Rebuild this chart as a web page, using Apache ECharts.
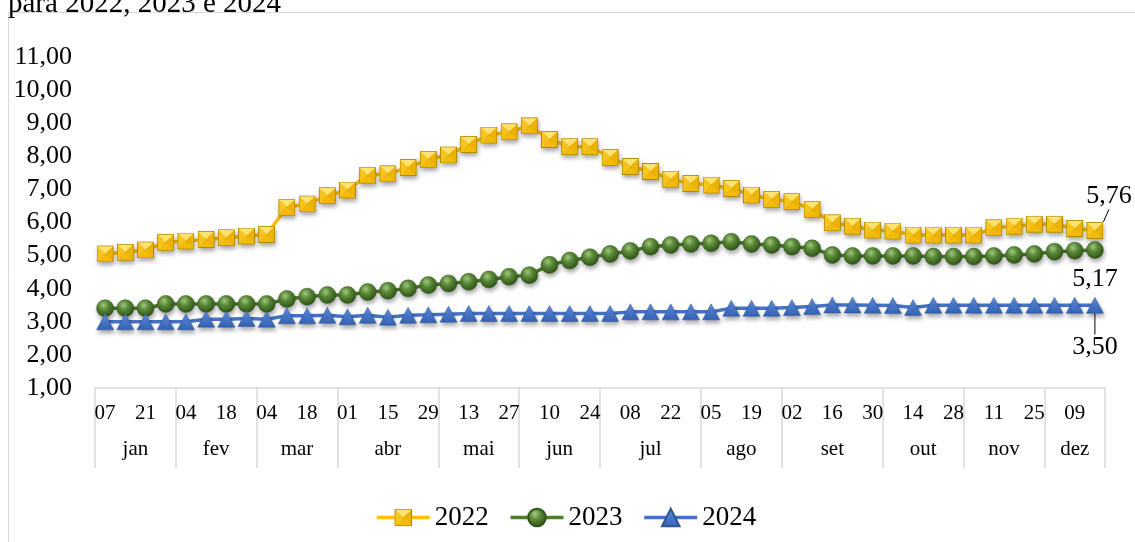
<!DOCTYPE html>
<html>
<head>
<meta charset="utf-8">
<script src="https://cdn.jsdelivr.net/npm/echarts@6/dist/echarts.min.js"></script>
<style>
  html, body { margin: 0; padding: 0; background: #fff; }
  #chart { width: 1135px; height: 542px; }
</style>
</head>
<body>
<div id="chart"></div>
<script>
// Weekly dates (day of month), grouped by month below
const days = ['07','14','21','28', '04','11','18','25', '04','11','18','25',
  '01','08','15','22','29', '06','13','20','27', '03','10','17','24',
  '01','08','15','22','29', '05','12','19','26', '02','09','16','23','30',
  '07','14','21','28', '04','11','18','25', '02','09','16'];
const months = ['jan','fev','mar','abr','mai','jun','jul','ago','set','out','nov','dez'];
const weeksPerMonth = [4, 4, 4, 5, 4, 4, 5, 4, 5, 4, 4, 3];

const v2022 = [5.05, 5.10, 5.17, 5.40, 5.44, 5.49, 5.54, 5.59, 5.64, 6.46,
  6.56, 6.81, 6.98, 7.43, 7.47, 7.66, 7.91, 8.04, 8.36, 8.64,
  8.74, 8.92, 8.51, 8.29, 8.29, 7.97, 7.69, 7.54, 7.31, 7.18,
  7.13, 7.03, 6.83, 6.70, 6.63, 6.40, 5.99, 5.89, 5.77, 5.74,
  5.62, 5.62, 5.62, 5.62, 5.84, 5.89, 5.95, 5.95, 5.82, 5.76];
const v2023 = [3.41, 3.41, 3.41, 3.54, 3.54, 3.54, 3.54, 3.54, 3.54, 3.69,
  3.76, 3.81, 3.81, 3.90, 3.94, 4.01, 4.11, 4.16, 4.21, 4.28,
  4.36, 4.41, 4.72, 4.85, 4.95, 5.05, 5.14, 5.27, 5.32, 5.35,
  5.37, 5.42, 5.35, 5.32, 5.27, 5.22, 5.02, 4.99, 4.99, 4.99,
  4.99, 4.97, 4.97, 4.97, 4.99, 5.02, 5.05, 5.12, 5.15, 5.17];
const v2024 = [3.00, 3.00, 3.00, 3.00, 3.00, 3.08, 3.08, 3.10, 3.08, 3.18,
  3.18, 3.20, 3.15, 3.20, 3.14, 3.20, 3.21, 3.23, 3.25, 3.25,
  3.25, 3.25, 3.25, 3.25, 3.25, 3.25, 3.30, 3.30, 3.30, 3.30,
  3.30, 3.41, 3.41, 3.41, 3.43, 3.46, 3.51, 3.51, 3.50, 3.49,
  3.43, 3.50, 3.50, 3.50, 3.50, 3.50, 3.50, 3.50, 3.50, 3.50];

const FONT = '"Liberation Serif", "Times New Roman", serif';
const fmt = v => Number(v).toFixed(2).replace('.', ',');

// Month group boundaries and centres, in category units
const monthEdges = [0];
weeksPerMonth.forEach(n => monthEdges.push(monthEdges[monthEdges.length - 1] + n));
const monthCenters = weeksPerMonth.map((n, i) => monthEdges[i] + n / 2);

// Pyramid-shaded square marker
const squareSvg = "<svg xmlns='http://www.w3.org/2000/svg' width='64' height='64' viewBox='0 0 16 16'>" +
  "<polygon points='0,0 16,0 8,8' fill='#ffe36e'/>" +
  "<polygon points='0,0 8,8 0,16' fill='#f7c41c'/>" +
  "<polygon points='16,0 8,8 16,16' fill='#eeb200'/>" +
  "<polygon points='0,16 8,8 16,16' fill='#f3ba08'/>" +
  "<rect x='0.4' y='0.4' width='15.2' height='15.2' fill='none' stroke='#a88000' stroke-width='0.8'/>" +
  "</svg>";
const squareSymbol = 'image://data:image/svg+xml;charset=utf-8,' + encodeURIComponent(squareSvg);

const shadow = { shadowBlur: 4, shadowColor: 'rgba(0,0,0,0.35)', shadowOffsetX: 1, shadowOffsetY: 3 };

function withLastLabel(values) {
  return values.map((v, i) => i === values.length - 1 ? { value: v, label: { show: true } } : v);
}

const labelBase = { fontFamily: FONT, fontSize: 26, color: '#000', formatter: p => fmt(p.value) };

const chart = echarts.init(document.getElementById('chart'), null, { renderer: 'canvas' });
chart.setOption({
  animation: false,
  backgroundColor: '#fff',
  graphic: [
    { type: 'rect', z: -1, silent: true,
      shape: { x: 8.5, y: 12.5, width: 1140, height: 540 },
      style: { fill: 'none', stroke: '#d9d9d9', lineWidth: 1 } },
    { type: 'text', silent: true, x: 8, y: 4,
      style: { text: 'para 2022, 2023 e 2024', font: '29px ' + FONT, fill: '#000', verticalAlign: 'middle' } }
  ],
  grid: { left: 95, right: 30, top: 57, bottom: 154, containLabel: false },
  legend: {
    left: 370, top: 499, itemWidth: 53, itemHeight: 22, itemGap: 20,
    lineStyle: { width: 3.5 },
    textStyle: { fontFamily: FONT, fontSize: 27, color: '#000' },
    data: ['2022', '2023', '2024']
  },
  xAxis: [
    {
      type: 'category', data: days, position: 'bottom', boundaryGap: true,
      axisLine: { show: true, lineStyle: { color: '#d9d9d9', width: 1.5 } },
      axisTick: { show: false },
      axisLabel: { interval: 1, margin: 15, fontFamily: FONT, fontSize: 21, color: '#000' },
      splitLine: { show: false }
    },
    {
      type: 'value', min: 0, max: days.length, position: 'bottom',
      axisLine: { show: false },
      axisTick: { show: true, customValues: monthEdges, length: 80, lineStyle: { color: '#d9d9d9', width: 1.5 } },
      axisLabel: {
        customValues: monthCenters, margin: 51, fontFamily: FONT, fontSize: 21, color: '#000',
        formatter: v => months[monthCenters.indexOf(v)] || ''
      },
      splitLine: { show: false }
    }
  ],
  yAxis: {
    type: 'value', min: 1, max: 11, interval: 1,
    axisLine: { show: false }, axisTick: { show: false }, splitLine: { show: false },
    axisLabel: { margin: 23, fontFamily: FONT, fontSize: 26, color: '#000', formatter: fmt }
  },
  series: [
    {
      name: '2022', type: 'line', data: withLastLabel(v2022),
      symbol: squareSymbol, symbolSize: 17, showAllSymbol: true,
      lineStyle: { color: '#ffc000', width: 3.5 },
      itemStyle: Object.assign({ color: '#ffc000' }, shadow),
      label: Object.assign({ position: 'inside' }, labelBase),
      labelLayout: { dx: 14, dy: -34 },
      labelLine: { show: true, lineStyle: { color: '#000', width: 1 } },
      emphasis: { disabled: true }
    },
    {
      name: '2023', type: 'line', data: withLastLabel(v2023),
      symbol: 'circle', symbolSize: 17, showAllSymbol: true,
      lineStyle: { color: '#4f7d2c', width: 3.5 },
      itemStyle: Object.assign({
        color: { type: 'radial', x: 0.4, y: 0.32, r: 0.7,
          colorStops: [{ offset: 0, color: '#a7cc84' }, { offset: 0.4, color: '#5b8b38' }, { offset: 1, color: '#2d5017' }] },
        borderColor: '#30561b', borderWidth: 0.5
      }, shadow),
      label: Object.assign({ position: 'bottom', distance: 7 }, labelBase),
      emphasis: { disabled: true }
    },
    {
      name: '2024', type: 'line', data: withLastLabel(v2024),
      symbol: 'triangle', symbolSize: [17, 16], showAllSymbol: true,
      lineStyle: { color: '#4472c4', width: 3.5 },
      itemStyle: Object.assign({
        color: { type: 'linear', x: 0, y: 0, x2: 0, y2: 1,
          colorStops: [{ offset: 0, color: '#5f8fe2' }, { offset: 1, color: '#3562b5' }] },
        borderColor: '#2f5597', borderWidth: 0.5
      }, shadow),
      label: Object.assign({ position: 'bottom', distance: 5 }, labelBase),
      labelLayout: { dy: 16 },
      labelLine: { show: true, lineStyle: { color: '#000', width: 1 } },
      emphasis: { disabled: true }
    }
  ]
});
</script>
</body>
</html>
